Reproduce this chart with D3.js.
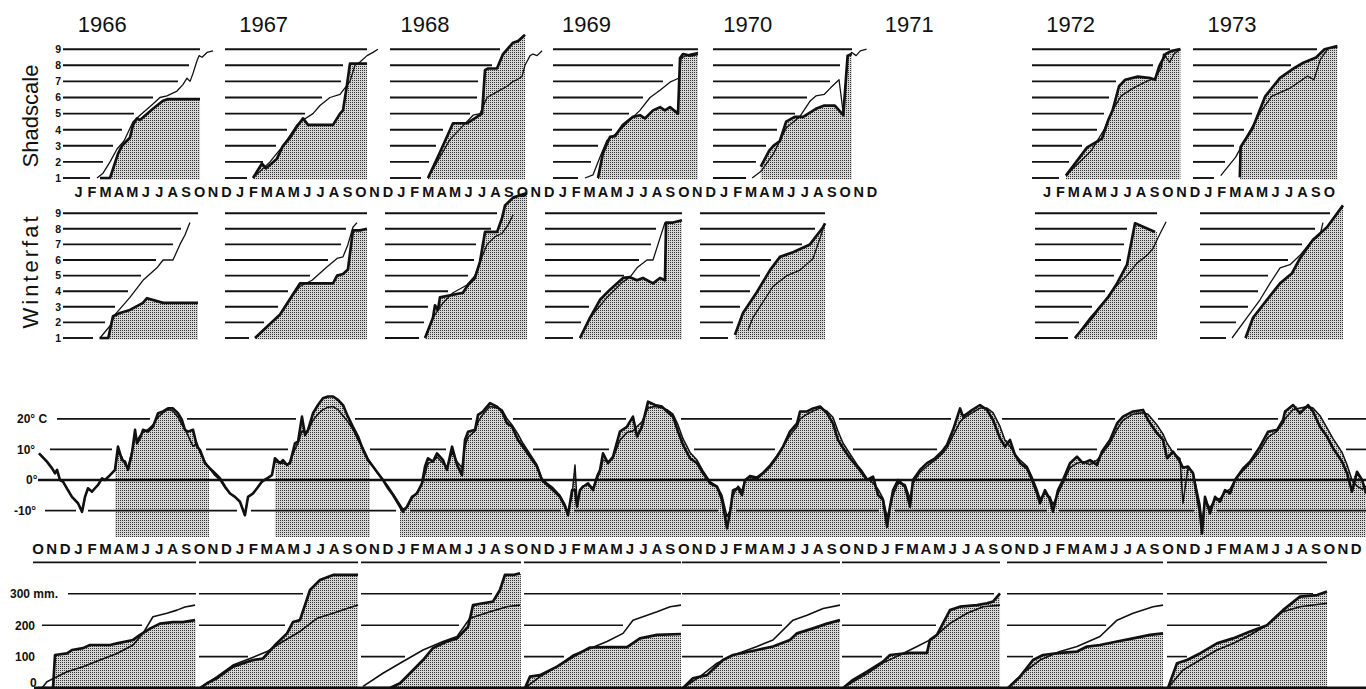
<!DOCTYPE html>
<html><head><meta charset="utf-8">
<script src="https://cdn.jsdelivr.net/npm/d3@7"></script>
<style>body{margin:0;background:#fff}svg{display:block}</style>
</head><body>
<svg id="c" width="1366" height="689"></svg>
<script>
// ---------- DATA ----------
const monthLetters = ['J','F','M','A','M','J','J','A','S','O','N','D'];
const yearLabels = ['1966','1967','1968','1969','1970','1971','1972','1973'];
const levels = [1,2,3,4,5,6,7,8,9];
const tempTicks = [20,10,0,-10];
const precTicks = [300,200,100,0];
const precLevels = [100,200,300,400];

// phenology panels: [month since Jan 1, phenological stage]
const shadYears = [1966,1967,1968,1969,1970,1972,1973];
const shadStart = [-0.62,-0.57,-0.3,-0.19,-0.3,-0.57,-0.6];
const shadEnd = [9.57,9.99,9.73,10.59,10.03,10.46,10.13];
const wintStart = [-0.62,-0.57,-0.68,-0.78,-1.26,-0.35,-0.08];
const wintEnd = [9.42,9.98,9.89,9.4,8.04,8.73,10.55];

const shadThick1966 = [[2.13,1],[2.88,1],[3.47,2.5],[3.77,3],[4.36,3.5],[4.59,4.3],[4.88,4.7],[5.11,4.6],[6.07,5.3],[6.82,5.8],[7.19,5.9],[9.57,5.9]];
const shadThin1966 = [[1.91,1],[2.36,1.3],[2.88,2],[3.4,2.8],[3.92,3.3],[4.59,4.5],[5.11,4.9],[6.07,5.6],[6.59,6.0],[7.11,6.1],[7.86,6.4],[8.3,6.8],[8.6,7.2],[8.83,7.0],[9.05,7.5],[9.35,8.3],[9.5,8.6],[9.72,8.5],[10.09,8.8],[10.54,8.9]];
const shadThick1967 = [[1.51,1],[2.18,1.9],[2.48,1.6],[3.29,2.2],[3.74,3],[4.26,3.5],[4.78,4.2],[5.23,4.7],[5.6,4.3],[7.46,4.3],[7.98,5.0],[8.2,5.2],[8.5,6.8],[8.72,8.1],[9.99,8.1]];
const shadThin1967 = [[1.51,1],[2.77,2],[3.74,3],[4.78,4.3],[5.23,4.6],[5.97,5.0],[6.49,5.5],[7.23,6.0],[7.98,6.2],[8.35,6.6],[8.72,7.0],[9.09,8.0],[9.46,8.2],[9.99,8.6],[10.43,8.8],[10.8,9.0]];
const shadThick1968 = [[2.52,1],[3.41,2.6],[4.38,4.4],[5.42,4.4],[6.16,4.8],[6.54,5.0],[6.76,7.7],[6.98,7.8],[7.65,7.8],[8.1,8.7],[8.84,9.4],[9.21,9.5],[9.73,9.9]];
const shadThin1968 = [[2.52,1],[4.16,3.4],[5.87,4.9],[6.39,5.0],[6.91,6.0],[7.65,6.35],[8.4,6.7],[8.84,7.0],[9.14,7.1],[9.51,7.3],[9.73,8.0],[10.11,8.6],[10.33,8.7],[10.63,8.6],[11.0,8.9]];
const shadThick1969 = [[3.16,1],[3.53,2.55],[4.05,3.55],[4.42,3.6],[5.02,4.3],[5.76,4.8],[6.28,4.9],[6.65,4.7],[7.25,5.2],[7.77,5.4],[8.14,5.2],[8.51,5.4],[9.11,5.0],[9.26,8.45],[9.48,8.7],[10.0,8.6],[10.59,8.7]];
const shadThin1969 = [[2.19,1],[2.79,1.2],[3.31,2.3],[3.83,3.35],[4.57,3.8],[5.54,4.6],[6.28,5.2],[7.03,6.0],[7.77,6.45],[8.51,6.95],[9.03,7.15],[9.2,7.2],[9.33,8.45],[10.0,8.7],[10.59,8.8]];
const shadThick1970 = [[3.26,1.7],[3.89,2.7],[4.2,3.0],[4.68,3.3],[5.15,4.5],[5.78,4.8],[6.41,4.8],[7.36,5.3],[7.99,5.5],[8.77,5.5],[9.4,4.9],[9.72,8.6],[10.03,8.7]];
const shadThin1970 = [[2.62,1],[3.26,1.4],[4.2,2.5],[5.15,4.1],[6.15,4.8],[6.95,5.8],[7.36,6.1],[7.99,6.2],[8.45,6.6],[9.08,7.1],[9.4,5.0],[9.72,8.5],[10.03,8.8],[10.35,8.6],[10.66,8.9],[11.13,9.0]];
const shadThick1972 = [[1.95,1.15],[3.53,2.9],[4.63,3.45],[5.1,4.6],[5.42,5.2],[5.9,6.7],[6.36,7.1],[7.3,7.3],[8.26,7.2],[8.57,7.1],[8.89,7.95],[9.36,8.7],[9.83,8.9],[10.46,9.0]];
const shadThin1972 = [[1.95,1.15],[3.84,2.7],[4.79,4.0],[5.42,5.2],[6.06,6.1],[6.99,6.6],[7.94,7.0],[8.57,7.2],[9.05,7.85],[9.2,8.7],[9.67,8.2],[9.99,8.7],[10.46,9.0]];
const shadThick1973 = [[2.88,1.04],[2.94,2.93],[3.82,4.08],[4.77,6.07],[5.87,7.22],[6.97,7.85],[7.6,8.16],[8.55,8.48],[9.18,9.0],[10.13,9.2]];
const shadThin1973 = [[1.46,1.15],[2.57,2.3],[3.51,3.76],[4.45,5.13],[5.24,6.07],[6.66,6.6],[7.92,7.33],[8.39,7.1],[8.87,8.37],[9.49,9.1],[10.13,9.1]];

const wintThick1966 = [[2.1,1],[2.75,1],[3.1,2.4],[3.62,2.6],[4.36,2.8],[5.33,3.25],[5.63,3.55],[6.82,3.25],[9.42,3.25]];
const wintThin1966 = [[2.13,1],[2.9,1.8],[3.25,2.5],[4.36,3.6],[5.33,4.7],[6.37,5.5],[6.82,6.0],[7.56,6.0],[8.08,7.0],[8.45,7.6],[8.82,8.4]];
const wintThick1967 = [[1.66,1],[3.52,2.5],[5.0,4.5],[7.46,4.5],[7.76,5.0],[8.2,5.1],[8.57,5.4],[8.94,7.9],[9.46,7.9],[9.98,8.0]];
const wintThin1967 = [[1.66,1],[3.52,2.5],[4.48,3.75],[5.0,4.3],[5.9,4.7],[7.0,5.55],[7.76,6.1],[8.2,6.2],[8.57,7.0],[8.94,8.1],[9.24,8.4]];
const wintThick1968 = [[2.3,1],[2.89,2.3],[3.04,3.1],[3.26,2.8],[3.41,3.6],[5.12,3.9],[5.49,4.4],[6.01,4.85],[6.39,5.9],[6.76,7.8],[7.66,7.8],[8.03,8.7],[8.25,9.5],[8.85,10.0],[9.52,10.2],[9.89,10.3]];
const wintThin1968 = [[2.3,1],[2.89,2.3],[3.64,3.25],[4.38,3.9],[5.42,4.4],[6.01,5.0],[6.54,6.2],[6.91,7.0],[7.51,7.5],[8.03,7.7],[8.48,8.25],[8.85,8.9]];
const wintThick1969 = [[1.82,1],[2.57,2.3],[3.31,3.45],[4.05,4.1],[5.02,4.85],[5.54,4.9],[6.06,4.7],[6.5,4.85],[7.25,4.5],[7.77,4.85],[8.14,4.7],[8.22,8.4],[8.74,8.4],[9.4,8.55]];
const wintThin1969 = [[1.82,1],[2.57,2.3],[3.83,3.6],[5.02,4.6],[5.54,4.9],[6.06,5.5],[6.8,6.0],[7.25,6.0],[7.62,7.0],[8.14,8.4]];
const wintThick1970 = [[1.34,1.2],[1.94,2.6],[2.98,3.95],[3.95,5.35],[4.69,6.2],[5.66,6.5],[6.92,7.0],[7.89,8.1],[8.04,8.35]];
const wintThin1970 = [[2.31,1.5],[2.68,2.3],[4.17,4.3],[5.21,5.0],[6.18,5.35],[7.15,6.1],[8.04,8.35]];
const wintThick1972 = [[2.62,1],[3.89,2.3],[4.49,3.0],[5.08,3.6],[5.75,4.5],[6.49,5.7],[7.09,8.35],[8.58,7.8]];
const wintThin1972 = [[2.62,1],[3.74,2.3],[4.71,3.25],[5.45,4.1],[6.49,5.0],[7.24,5.8],[7.98,6.3],[8.43,6.75],[8.95,7.7],[9.4,8.45]];
const wintThick1973 = [[3.3,1],[3.86,2.3],[4.9,3.45],[5.87,4.5],[6.76,5.15],[7.35,6.1],[8.32,7.3],[9.36,8.1],[10.55,9.5]];
const wintThin1973 = [[2.3,1],[3.41,2.3],[4.38,3.45],[5.12,4.5],[5.87,5.5],[6.61,5.7],[7.35,6.3],[8.1,7.1],[8.84,7.6],[9.06,8.4]];

// temperature: [month since Jan 1 1966, thick °C, thin °C]
const tempSeries = [[-2.40,8.7,8.7],[-1.81,6.0,6.0],[-1.43,3.8,3.8],[-1.21,2.2,2.2],[-1.06,3.3,3.3],[-0.84,0,0],[-0.62,-0.5,-0.5],[-0.25,-3.3,-3.3],[0.05,-5.5,-5.5],[0.50,-7.6,-7.6],[0.80,-10.4,-10.4],[1.02,-5.5,-5.5],[1.24,-2.7,-2.7],[1.54,-3.8,-3.8],[1.76,-2.7,-2.7],[1.99,-1.6,-1.6],[2.28,0.5,0.5],[2.51,0,0],[2.88,1.6,1.6],[3.25,3.3,3.3],[3.47,10.9,9.0],[3.77,6.5,7.5],[3.99,6.1,5.0],[4.22,3.3,4.0],[4.51,8.7,9.5],[4.74,16.4,14.0],[4.88,12.0,13.0],[5.11,13.7,14.5],[5.33,16.4,15.5],[5.70,15.8,16.5],[6.07,17.4,18.0],[6.45,21.8,20.5],[6.82,22.4,22.0],[7.19,23.4,23.0],[7.56,23.4,22.5],[7.93,21.8,20.5],[8.23,19.6,18.0],[8.45,16.4,16.5],[8.68,15.8,14.5],[9.05,16.4,11.0],[9.35,10.9,12.0],[9.57,9.8,9.0],[9.94,5.5,6.0],[10.31,3.8,3.5],[10.68,2.2,1.5],[11.06,0.5,0],[11.43,-2.2,-2.5],[11.80,-4.4,-4.4],[12.17,-5.5,-5.5],[12.54,-7.1,-7.1],[12.91,-11.5,-11.5],[13.14,-5.5,-5.5],[13.51,-4.4,-4.4],[13.81,-2.7,-2.7],[14.18,-0.5,-0.5],[14.55,0.5,0.5],[14.92,1.6,1.6],[15.14,7.1,6.0],[15.52,5.5,5.5],[15.74,6.5,5.5],[16.04,4.9,5.0],[16.26,5.5,6.0],[16.63,12.0,10.0],[16.86,12.6,12.0],[17.15,20.7,16.0],[17.38,14.7,15.5],[17.60,16.4,16.0],[17.97,21.8,19.5],[18.34,24.5,21.5],[18.71,26.7,23.0],[19.09,27.3,23.8],[19.46,27.3,24.0],[19.83,26.2,23.0],[20.20,24.5,21.0],[20.57,20.7,19.0],[20.94,17.4,16.5],[21.32,14.2,13.0],[21.69,9.8,10.5],[22.06,6.5,7.0],[22.43,4.4,4.5],[22.80,2.2,2.0],[23.18,0,0],[23.55,-2.7,-2.0],[23.92,-4.9,-4.5],[24.29,-7.6,-7.0],[24.66,-10.4,-9.5],[24.96,-8.7,-9.0],[25.33,-5.5,-6.0],[25.70,-4.4,-4.0],[26.07,-1.1,-1.5],[26.30,4.4,2.0],[26.52,7.1,5.5],[26.89,6.0,6.0],[27.19,8.7,7.5],[27.64,6.5,5.5],[27.93,3.3,4.0],[28.31,10.9,9.0],[28.68,4.9,6.0],[29.05,1.6,4.0],[29.27,13.1,11.0],[29.50,15.8,14.0],[30.02,16.4,16.0],[30.24,21.3,19.0],[30.61,22.4,21.5],[31.13,25.1,24.0],[31.65,24.0,23.5],[32.02,22.4,23.0],[32.40,18.5,20.0],[32.77,17.4,18.0],[33.21,13.1,15.0],[33.58,10.9,12.0],[34.10,7.6,8.5],[34.62,4.4,5.0],[34.99,0,0.5],[35.37,-1.6,-1.0],[35.81,-3.3,-2.5],[36.33,-5.5,-5.0],[36.71,-8.7,-8.0],[36.93,-11.5,-10.5],[37.23,-3.3,-5.0],[37.45,-3.3,4.9],[37.60,-8.7,-7.0],[37.82,-3.3,-3.5],[38.04,-2.2,-2.0],[38.42,-1.1,-1.5],[38.79,-3.3,-2.5],[39.09,1.1,0.5],[39.31,3.3,2.5],[39.53,8.7,6.5],[39.90,5.5,6.0],[40.27,7.6,7.0],[40.79,15.8,13.0],[41.31,17.4,15.5],[41.76,20.7,16.0],[42.06,14.2,17.5],[42.43,17.4,19.0],[42.88,25.6,23.5],[43.40,24.5,24.0],[43.92,24.0,23.5],[44.29,22.4,23.0],[44.74,20.7,21.5],[45.11,15.8,18.0],[45.48,11.5,13.5],[46.00,7.1,9.0],[46.52,5.5,6.5],[46.97,2.2,3.0],[47.49,-1.1,-0.5],[48.01,-2.2,-2.0],[48.38,-6.5,-5.0],[48.75,-15.8,-12.0],[48.97,-10.9,-10.0],[49.20,-3.3,-5.0],[49.57,-2.7,-2.0],[49.87,-4.9,-3.5],[50.09,0,0],[50.46,1.1,1.5],[50.98,0.5,1.0],[51.43,2.2,2.5],[51.95,4.4,5.0],[52.47,7.6,8.0],[52.92,10.9,11.0],[53.43,15.8,14.5],[53.96,18.5,17.5],[54.18,22.4,20.0],[54.70,22.4,21.5],[55.15,23.4,22.5],[55.67,24.0,23.5],[56.19,21.8,22.5],[56.63,18.5,20.5],[57.00,13.1,16.0],[57.38,10.4,12.0],[57.90,7.1,8.5],[58.42,4.4,5.0],[58.79,2.2,3.0],[59.16,0,0.5],[59.61,1.1,-1.0],[59.98,-4.9,-3.0],[60.35,-6.5,-6.0],[60.65,-15.3,-12.0],[60.87,-8.7,-9.0],[61.10,-3.3,-5.0],[61.47,0,-1.0],[61.99,-2.2,-1.5],[62.36,-8.7,-6.0],[62.58,0,-1.0],[63.10,3.3,2.5],[63.62,5.5,4.5],[64.22,7.1,6.5],[64.74,9.3,8.5],[65.11,11.5,10.5],[65.56,16.4,14.5],[66.08,23.4,19.0],[66.30,20.7,20.0],[66.82,22.4,21.5],[67.56,24.5,23.5],[68.08,22.9,23.5],[68.53,19.6,22.0],[69.05,13.6,17.5],[69.42,10.9,13.0],[69.79,13.1,11.0],[70.16,8.2,8.5],[70.54,5.5,6.5],[71.06,3.8,4.5],[71.43,0,1.0],[71.80,-4.4,-3.0],[72.02,-7.6,-6.0],[72.39,-3.3,-4.5],[72.77,-6.5,-5.5],[72.99,-10.4,-8.0],[73.36,-3.3,-4.5],[73.73,0,-1.0],[74.25,5.5,4.0],[74.77,7.6,5.5],[75.22,5.5,6.0],[75.74,6.5,5.0],[76.26,4.9,6.5],[76.63,9.3,8.5],[77.23,13.1,12.0],[77.75,18.5,16.5],[78.19,20.7,19.5],[78.94,22.4,21.5],[79.68,22.9,22.0],[80.05,19.6,21.5],[80.72,15.3,18.0],[81.17,13.1,15.0],[81.47,7.1,12.0],[81.91,9.3,9.0],[82.43,6.0,7.0],[82.65,4.0,-7.6],[83.03,4.4,4.0],[83.40,2.2,2.5],[83.92,-10.9,-8.0],[84.07,-17.5,-14.0],[84.29,-5.5,-7.0],[84.66,-10.9,-9.0],[85.04,-5.5,-6.5],[85.41,-7.1,-6.0],[85.78,-3.3,-4.0],[86.15,-4.4,-3.0],[86.52,0,0],[87.12,3.8,3.0],[87.64,6.0,5.5],[88.38,10.9,9.5],[88.98,15.8,14.0],[89.65,16.4,16.0],[90.09,19.6,18.5],[90.24,22.4,20.0],[90.84,24.5,23.0],[91.36,21.8,23.5],[91.95,24.5,24.0],[92.32,22.4,23.5],[92.84,17.4,21.0],[93.36,14.2,17.0],[93.81,10.4,13.5],[94.48,6.0,9.0],[94.85,2.2,5.0],[95.22,-3.8,0],[95.59,2.7,-2.0],[95.97,0,-3.0],[96.26,-4.4,-2.0]];
const tempShadePeriods = [[3.25,10.24],[15.14,22.21],[24.44,96.4]];

// precipitation: [months since Oct 1 of previous year, cumulative mm]
const precYears = [1966,1967,1968,1969,1970,1971,1972,1973];
const precEnd = [12.25,12.32,12.43,12.33,12.15,12.05,12.17,12.36];
const precThick1966 = [[0.52,0],[1.64,0],[1.79,105],[2.68,110],[3.05,121],[3.87,127],[4.39,137],[5.88,137],[6.4,142],[7.59,153],[8.11,169],[8.88,190],[9.59,205],[10.56,210],[11.3,210],[12.2,216]];
const precThin1966 = [[0.82,0],[1.19,20],[2.68,52],[3.87,68],[5.13,89],[6.4,110],[7.59,137],[8.33,174],[9.07,227],[10.11,238],[10.86,248],[11.45,258],[12.2,264]];
const precThick1967 = [[0.57,0],[1.09,15],[1.83,31],[3.02,68],[4.51,89],[5.25,94],[6.27,142],[7.04,174],[7.48,210],[8.0,216],[8.75,312],[9.49,344],[10.46,360],[12.32,360]];
const precThin1967 = [[0.57,0],[1.83,36],[3.02,73],[4.29,94],[5.55,116],[6.74,148],[8.0,180],[9.27,222],[10.46,238],[11.5,253],[12.32,264]];
const precThick1968 = [[0.61,0],[2.69,0],[3.44,15],[4.18,47],[5.15,89],[5.89,127],[6.93,148],[7.68,158],[8.5,195],[8.87,264],[9.61,270],[10.35,275],[10.87,312],[11.24,360],[11.84,360],[12.36,365]];
const precThin1968 = [[0.69,5],[2.17,47],[3.44,79],[5.15,121],[6.64,148],[7.68,164],[8.64,222],[10.13,243],[11.39,259],[12.36,264]];
const precThick1969 = [[0.73,0],[1.1,36],[1.85,41],[3.11,68],[4.3,100],[5.57,129],[6.83,130],[8.32,130],[9.28,158],[10.55,169],[12.33,172]];
const precThin1969 = [[0.73,0],[1.85,36],[3.11,68],[4.3,105],[5.57,126],[6.83,148],[8.02,174],[8.76,216],[10.55,243],[11.52,259],[12.33,264]];
const precThick1970 = [[0.48,0],[1.22,31],[2.26,41],[3.45,89],[4.2,105],[5.98,121],[7.17,132],[8.43,153],[8.96,174],[10.15,190],[11.19,205],[12.15,216]];
const precThin1970 = [[0.48,0],[1.74,36],[3.01,79],[3.97,100],[5.98,132],[7.17,153],[8.66,216],[9.7,232],[10.9,253],[12.15,264]];
const precThick1971 = [[0.38,0],[1.12,26],[2.16,52],[3.35,84],[3.87,105],[5.36,112],[6.62,112],[6.84,153],[7.36,169],[8.33,248],[9.07,259],[10.34,264],[11.08,270],[11.53,275],[12.05,301]];
const precThin1971 = [[0.38,0],[1.12,20],[2.16,45],[3.35,80],[4.61,105],[5.88,132],[7.07,158],[8.33,206],[9.6,238],[10.79,259],[12.05,264]];
const precThick1972 = [[0.64,0],[1.54,36],[2.5,89],[3.25,105],[4.51,112],[5.78,116],[6.52,132],[7.48,137],[8.75,148],[9.94,158],[11.2,169],[12.17,174]];
const precThin1972 = [[0.64,0],[1.76,47],[3.02,89],[4.51,116],[5.78,132],[7.48,164],[8.75,216],[9.94,238],[11.43,259],[12.17,264]];
const precThick1973 = [[0.54,0],[1.21,79],[1.95,89],[2.92,110],[4.18,142],[5.37,158],[6.64,180],[7.9,200],[9.09,248],[10.35,291],[11.62,296],[12.36,307]];
const precThin1973 = [[0.54,0],[1.65,57],[2.92,89],[4.18,121],[5.37,142],[6.64,169],[7.9,200],[9.09,243],[10.35,259],[12.36,270]];

const shadThick = [shadThick1966,shadThick1967,shadThick1968,shadThick1969,shadThick1970,shadThick1972,shadThick1973];
const shadThin = [shadThin1966,shadThin1967,shadThin1968,shadThin1969,shadThin1970,shadThin1972,shadThin1973];
const wintThick = [wintThick1966,wintThick1967,wintThick1968,wintThick1969,wintThick1970,wintThick1972,wintThick1973];
const wintThin = [wintThin1966,wintThin1967,wintThin1968,wintThin1969,wintThin1970,wintThin1972,wintThin1973];
const precThick = [precThick1966,precThick1967,precThick1968,precThick1969,precThick1970,precThick1971,precThick1972,precThick1973];
const precThin = [precThin1966,precThin1967,precThin1968,precThin1969,precThin1970,precThin1971,precThin1972,precThin1973];

// ---------- DRAWING ----------
const FONT = '"Liberation Sans", Arial, sans-serif';
const svg = d3.select('#c');
const defs = svg.append('defs');
const pat = defs.append('pattern').attr('id','dots').attr('width',2).attr('height',2).attr('patternUnits','userSpaceOnUse');
pat.append('rect').attr('width',2).attr('height',2).attr('fill','#d6d6d6');
pat.append('rect').attr('width',1).attr('height',1).attr('fill','#333');

const x = d3.scaleLinear().domain([0, 96]).range([71.3, 71.3 + 13.45 * 96]);
const yShad = d3.scaleLinear().domain([1, 9]).range([178, 49.2]);
const yWint = d3.scaleLinear().domain([1, 9]).range([338, 213.2]);
const yT = d3.scaleLinear().domain([-10, 20]).range([510.6, 418.8]);
const yP = d3.scaleLinear().domain([0, 300]).range([688, 593.8]);

function interp(pts, m) {
  if (m < pts[0][0] || m > pts[pts.length - 1][0]) return NaN;
  for (let i = 1; i < pts.length; i++) {
    if (m <= pts[i][0]) {
      const a = pts[i - 1], b = pts[i];
      if (b[0] === a[0]) return Math.max(a[1], b[1]);
      return a[1] + (b[1] - a[1]) * (m - a[0]) / (b[0] - a[0]);
    }
  }
  return pts[pts.length - 1][1];
}
function segments(x0, x1, blocked, gap) {
  const out = []; let s = null;
  const bl = {};
  const isB = px => { if (!(px in bl)) bl[px] = blocked(px); return bl[px]; };
  for (let px = Math.round(x0); px <= Math.round(x1); px++) {
    let b = false;
    for (let d = -gap; d <= gap; d++) { if (isB(px + d)) { b = true; break; } }
    if (!b) { if (s === null) s = px; }
    else if (s !== null) { out.push([s, px - 1]); s = null; }
  }
  if (s !== null) out.push([s, Math.round(x1)]);
  return out.filter(q => q[1] - q[0] > 2);
}
function maxOf(vals) { const v = vals.filter(d => !isNaN(d)); return v.length ? Math.max(...v) : NaN; }

function drawPanel(layer, thick, thin, yS, off, start, end, base, lvls, thr, gap, gridW, thickW, thinW, x0s) {
  const X = m => x(off + m);
  let pts = thick.filter(p => p[0] < end);
  const ve = interp(thick, end);
  pts.push([end, isNaN(ve) ? thick[thick.length - 1][1] : ve]);
  layer.append('path').datum(pts)
    .attr('d', d3.area().x(p => X(p[0])).y0(yS(base)).y1(p => yS(p[1])))
    .attr('fill', 'url(#dots)');
  lvls.forEach((L, i) => {
    const xa = x0s ? x0s[i] : X(start);
    const blocked = px => {
      const m = x.invert(px) - off;
      const v = maxOf([interp(thick, m), interp(thin, m)]);
      return !isNaN(v) && v >= L - thr;
    };
    segments(xa, X(end), blocked, gap).forEach(sg => {
      layer.append('line').attr('x1', sg[0]).attr('x2', sg[1]).attr('y1', yS(L)).attr('y2', yS(L))
        .attr('stroke', '#111').attr('stroke-width', gridW);
    });
  });
  const ln = d3.line().x(p => X(p[0])).y(p => yS(p[1]));
  layer.append('path').datum(thin).attr('d', ln).attr('fill', 'none').attr('stroke', '#111')
    .attr('stroke-width', thinW).attr('stroke-linejoin', 'round');
  layer.append('path').datum(thick).attr('d', ln).attr('fill', 'none').attr('stroke', '#111')
    .attr('stroke-width', thickW).attr('stroke-linejoin', 'round');
}

// ---- top phenology panels ----
const topG = svg.append('g');
shadYears.forEach((yr, i) => {
  const off = 12 * (yr - 1966);
  drawPanel(topG, shadThick[i], shadThin[i], yShad, off, shadStart[i], shadEnd[i], 0.9, levels, 0.05, 6, 1.9, 2.7, 1.3);
  drawPanel(topG, wintThick[i], wintThin[i], yWint, off, wintStart[i], wintEnd[i], 0.9, levels, 0.05, 6, 1.9, 2.7, 1.3);
});

// year labels
topG.selectAll('text.yr').data(yearLabels).join('text')
  .attr('class', 'yr')
  .attr('x', (d, i) => x(12 * i + 2.3)).attr('y', 32)
  .attr('text-anchor', 'middle').attr('font-family', FONT).attr('font-size', 22)
  .attr('fill', '#111').text(d => d);

// level axes
[yShad, yWint].forEach(s => {
  const a = svg.append('g').attr('transform', 'translate(61,0)')
    .call(d3.axisLeft(s).tickValues(levels).tickSize(0).tickPadding(0).tickFormat(d3.format('d')));
  a.select('.domain').remove();
  a.selectAll('text').attr('font-family', FONT).attr('font-weight', 'bold').attr('font-size', 10.5).attr('fill', '#111');
});

// rotated labels
svg.append('text').attr('transform', 'translate(38,116) rotate(-90)').attr('text-anchor', 'middle')
  .attr('font-family', FONT).attr('font-size', 22).attr('fill', '#111').text('Shadscale');
svg.append('text').attr('transform', 'translate(38,271) rotate(-90)').attr('text-anchor', 'middle')
  .attr('font-family', FONT).attr('font-size', 22).attr('letter-spacing', 3).attr('fill', '#111').text('Winterfat');

// month axes
function monthAxis(vals, ty, size) {
  const a = svg.append('g').attr('transform', `translate(0,${ty})`)
    .call(d3.axisBottom(x).tickValues(vals).tickSize(0).tickPadding(0)
      .tickFormat(d => monthLetters[((Math.floor(d) % 12) + 12) % 12]));
  a.select('.domain').remove();
  a.selectAll('text').attr('font-family', FONT).attr('font-weight', 'bold').attr('font-size', size).attr('fill', '#111');
}
monthAxis(d3.range(0, 60).map(i => i + 0.5), 186.5, 14.5);
monthAxis(d3.range(72, 94).map(i => i + 0.5), 186.5, 14.5);
monthAxis(d3.range(-3, 96).map(i => i + 0.5), 543.5, 15);

// ---- temperature ----
const tg = svg.append('g');
defs.append('clipPath').attr('id', 'tclip').selectAll('rect').data(tempShadePeriods).join('rect')
  .attr('x', d => x(d[0])).attr('width', d => x(d[1]) - x(d[0])).attr('y', 380).attr('height', 170);
tg.append('path').datum(tempSeries).attr('clip-path', 'url(#tclip)')
  .attr('d', d3.area().x(d => x(d[0])).y0(yT(-18.6)).y1(d => yT(Math.max(d[1], d[2]))))
  .attr('fill', 'url(#dots)');
const tAp = tempSeries.map(d => [d[0], d[1]]), tBp = tempSeries.map(d => [d[0], d[2]]);
[[20, 57], [10, 50], [-10, 45]].forEach(([L, xs]) => {
  const blocked = px => {
    const m = x.invert(px);
    const a = interp(tAp, m), b = interp(tBp, m);
    if (isNaN(a)) return false;
    return L > 0 ? Math.max(a, b) >= L - 0.3 : Math.min(a, b) <= L + 0.3;
  };
  segments(xs, 1366, blocked, 5).forEach(sg => {
    tg.append('line').attr('x1', sg[0]).attr('x2', sg[1]).attr('y1', yT(L)).attr('y2', yT(L))
      .attr('stroke', '#111').attr('stroke-width', 1.7);
  });
});
tg.append('line').attr('x1', 38).attr('x2', 1366).attr('y1', yT(0)).attr('y2', yT(0))
  .attr('stroke', '#111').attr('stroke-width', 2.6);
tg.append('path').datum(tBp).attr('d', d3.line().x(d => x(d[0])).y(d => yT(d[1])))
  .attr('fill', 'none').attr('stroke', '#111').attr('stroke-width', 1.5).attr('stroke-linejoin', 'round');
tg.append('path').datum(tAp).attr('d', d3.line().x(d => x(d[0])).y(d => yT(d[1])))
  .attr('fill', 'none').attr('stroke', '#111').attr('stroke-width', 2.6).attr('stroke-linejoin', 'round');
{
  const a = svg.append('g').attr('transform', 'translate(17,0)')
    .call(d3.axisLeft(yT).tickValues(tempTicks).tickSize(0).tickPadding(0)
      .tickFormat(d => d === 20 ? '20° C' : d + '°'));
  a.select('.domain').remove();
  a.selectAll('text').attr('text-anchor', 'start').attr('x', d => d === 0 ? 9 : (d === -10 ? -3 : 0))
    .attr('font-family', FONT).attr('font-weight', 'bold').attr('font-size', 12).attr('fill', '#111');
}

// ---- precipitation ----
const pg = svg.append('g');
precYears.forEach((yr, k) => {
  const off = 12 * k - 3;
  const st = Math.min(precThick[k][0][0], precThin[k][0][0]) - 0.1;
  const x0s = k === 0 ? [48, 42, 68, 33] : null;
  drawPanel(pg, precThick[k], precThin[k], yP, off, st, precEnd[k], 0, precLevels, 2, 5, 1.6, 2.7, 1.6, x0s);
});
pg.append('line').attr('x1', 34).attr('x2', 1366).attr('y1', yP(0)).attr('y2', yP(0))
  .attr('stroke', '#111').attr('stroke-width', 3);
{
  const a = svg.append('g').attr('transform', 'translate(10,0)')
    .call(d3.axisLeft(yP).tickValues(precTicks).tickSize(0).tickPadding(0)
      .tickFormat(d => d === 300 ? '300 mm.' : String(d)));
  a.select('.domain').remove();
  a.selectAll('text').attr('text-anchor', 'start').attr('x', d => d === 300 ? 0 : (d === 0 ? 20 : 5))
    .attr('dy', d => d === 0 ? '-0.1em' : '0.32em')
    .attr('font-family', FONT).attr('font-weight', 'bold').attr('font-size', 12).attr('fill', '#111');
}
</script>
</body></html>
